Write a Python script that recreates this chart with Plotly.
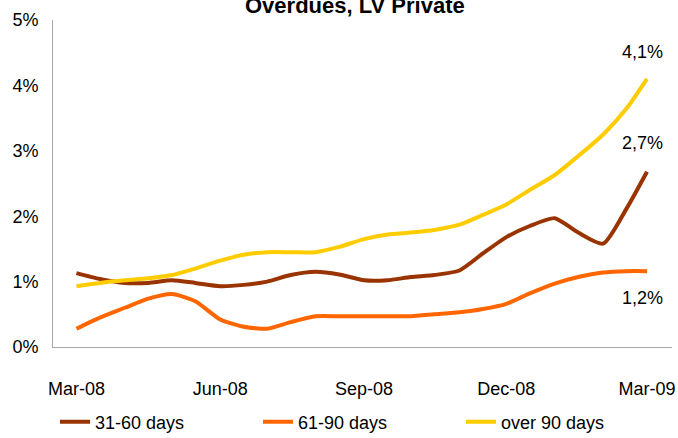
import plotly.graph_objects as go

dates = [
    "2008-03-01", "2008-03-16", "2008-04-01", "2008-04-16", "2008-05-01",
    "2008-05-16", "2008-06-01", "2008-06-16", "2008-07-01", "2008-07-16",
    "2008-08-01", "2008-08-16", "2008-09-01", "2008-09-16", "2008-10-01",
    "2008-10-16", "2008-11-01", "2008-11-16", "2008-12-01", "2008-12-16",
    "2009-01-01", "2009-01-16", "2009-02-01", "2009-02-16", "2009-03-01",
]

d31_60 = [1.13, 1.04, 0.98, 0.98, 1.02, 0.98, 0.93, 0.95, 1.00, 1.10,
          1.15, 1.11, 1.02, 1.02, 1.07, 1.10, 1.17, 1.43, 1.68, 1.85,
          1.97, 1.75, 1.58, 2.12, 2.68]
d61_90 = [0.28, 0.45, 0.60, 0.74, 0.81, 0.70, 0.42, 0.31, 0.28, 0.38,
          0.47, 0.47, 0.47, 0.47, 0.47, 0.50, 0.53, 0.58, 0.66, 0.82,
          0.97, 1.07, 1.14, 1.16, 1.16]
over90 = [0.93, 0.98, 1.02, 1.05, 1.10, 1.20, 1.32, 1.41, 1.45, 1.45,
          1.45, 1.53, 1.65, 1.72, 1.75, 1.79, 1.87, 2.02, 2.18, 2.40,
          2.63, 2.92, 3.25, 3.65, 4.10]

series_names = ["31-60 days", "61-90 days", "over 90 days"]
series_colors = ["#993300", "#FF6600", "#FFCC00"]

tick_dates = ["2008-03-01", "2008-06-01", "2008-09-01", "2008-12-01", "2009-03-01"]
tick_text = ["Mar-08", "Jun-08", "Sep-08", "Dec-08", "Mar-09"]
y_ticks = [0, 1, 2, 3, 4, 5]
y_text = ["0%", "1%", "2%", "3%", "4%", "5%"]

end_labels = ["2,7%", "1,2%", "4,1%"]
end_label_y = [3.12, 0.75, 4.51]

title_text = "Overdues, LV Private"

FONT = "Liberation Sans, Arial, sans-serif"

fig = go.Figure()
for name, vals, col in zip(series_names, [d31_60, d61_90, over90], series_colors):
    fig.add_trace(go.Scatter(
        x=dates, y=vals, name=name, mode="lines",
        line=dict(color=col, width=4, shape="spline", smoothing=0.6),
    ))

for txt, yv in zip(end_labels, end_label_y):
    fig.add_annotation(x="2009-02-26", y=yv, xref="x", yref="y", text=txt,
                       showarrow=False, font=dict(size=18, color="#000000", family=FONT))

fig.add_annotation(x=(355 - 53) / 619, y=(347 - 6) / 327, xref="paper", yref="paper",
                   text="<b>" + title_text + "</b>", showarrow=False,
                   yanchor="middle", font=dict(size=22, color="#000000", family=FONT))

fig.update_layout(
    width=678, height=438,
    margin=dict(l=53, r=6, t=20, b=91, autoexpand=False),
    paper_bgcolor="white", plot_bgcolor="white",
    font=dict(family=FONT, size=18, color="#000000"),
    showlegend=True,
    legend=dict(orientation="h", x=55 / 678, xanchor="left", xref="container",
                y=1 - 422 / 438, yanchor="middle", yref="container",
                entrywidth=158, entrywidthmode="pixels",
                font=dict(size=18, family=FONT), itemwidth=30),
    xaxis=dict(type="date", range=["2008-02-15", "2009-03-17"],
               tickvals=tick_dates, ticktext=tick_text,
               showline=True, linecolor="#A6A6A6", linewidth=1,
               showgrid=False, zeroline=False, ticks="", ticklabelstandoff=25),
    yaxis=dict(range=[0, 5], tickvals=y_ticks, ticktext=y_text,
               showline=True, linecolor="#A6A6A6", linewidth=1,
               showgrid=False, zeroline=False, ticks="", ticklabelstandoff=10),
)

fig.write_html("out.html", config={"displayModeBar": False},
               post_script="document.body.style.margin='0';")
